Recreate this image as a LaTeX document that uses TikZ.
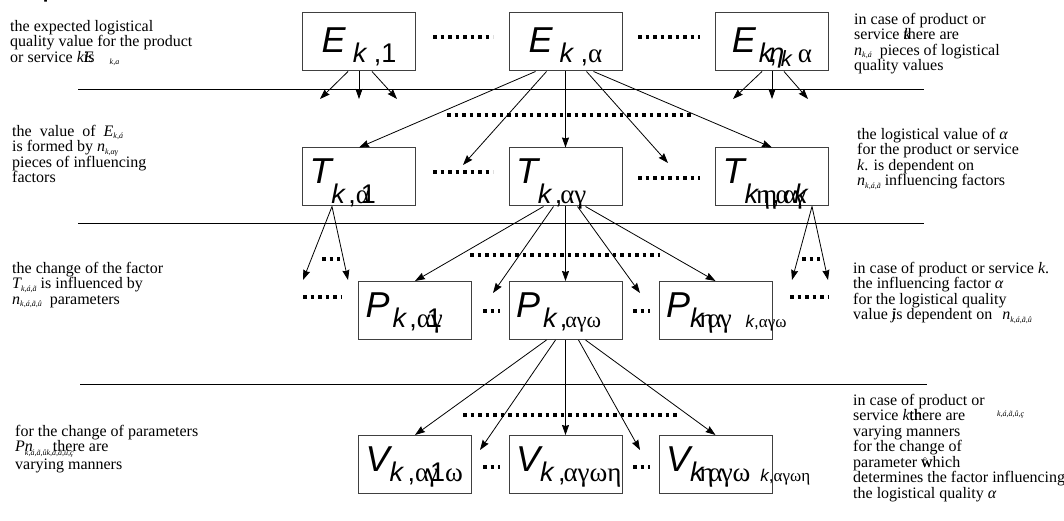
\documentclass[tikz,border=0pt]{standalone}
\usepackage{fontspec}
\setmainfont{Liberation Serif}
\newfontfamily\boxfont{Liberation Sans}
\newfontfamily\grk{Liberation Serif}
\usetikzlibrary{arrows.meta}
\newcommand{\ki}{{\itshape k}}
\newcommand{\gk}[1]{{\grk #1}}
\newcommand{\boxlbl}[3][10pt]{{\fontsize{36}{36}\selectfont\itshape #2}\raisebox{-#1}{\fontsize{27}{27}\selectfont #3}}
\newcommand{\nsub}[1]{\raisebox{-2.5pt}{\fontsize{8}{8}\selectfont\itshape #1}}

\begin{document}
\begin{tikzpicture}[x=1pt,y=-1pt,
  qbox/.style={draw=black!75,line width=1pt,inner sep=0pt,minimum width=113pt,minimum height=58pt,font=\boxfont},
  ebox/.style={qbox,text height=40pt,text depth=18pt},
  lbox/.style={qbox,text height=36pt,text depth=22pt,text width=99pt,inner xsep=7pt,align=left},
  note/.style={font=\fontsize{16}{15.5}\selectfont,align=left,anchor=north west,inner sep=0pt},
  arr/.style={-{Stealth[length=10pt,width=7pt,inset=1pt]},line width=0.8pt},
  sep/.style={line width=1pt},
  dotrow/.style={line width=3.5pt,dash pattern=on 3.5pt off 4pt}]
\useasboundingbox (0,0) rectangle (1064,521);
\fill[white] (0,0) rectangle (1064,521);
% cut title
\node[font=\boxfont\fontsize{32}{32}\selectfont,anchor=base west,inner sep=0pt] (ttlp) at (42,-4) {p};
\node[font=\boxfont\fontsize{32}{32}\selectfont,anchor=base west,inner sep=0pt] (ttlg) at (755,-6) {g};
% row E
\node[ebox] (Ek1) at (359,42) {\boxlbl{E}{\hspace{7pt}\ki\ ,1}};
\node[ebox] (Eka) at (565.5,42) {\boxlbl{E}{\hspace{7pt}\ki\ ,\gk{α}}};
\node[ebox] (Ekn) at (772,42) {\boxlbl{E}{\hspace{3pt}\ki\hspace{-3pt}\rlap{\itshape η},\hspace{4pt}\raisebox{-4pt}{\fontsize{22}{22}\selectfont\ki}\hspace{6pt}\gk{α}}};
\draw[dotrow] (433,37) -- (493,37);
\draw[dotrow] (638,37) -- (700,37);
\draw[sep] (78,90) -- (924,90);
\coordinate (ea1) at (320,99);
\coordinate (ea2) at (359,99);
\coordinate (ea3) at (397,99);
\coordinate (eb1) at (733,99);
\coordinate (eb2) at (772,99);
\coordinate (eb3) at (808,99);
\draw[arr] ([xshift=-11pt]Ek1.south) -- (ea1);
\draw[arr] (Ek1.south) -- (ea2);
\draw[arr] ([xshift=13pt]Ek1.south) -- (ea3);
\draw[arr] ([xshift=-10pt]Ekn.south) -- (eb1);
\draw[arr] (Ekn.south) -- (eb2);
\draw[arr] ([xshift=12pt]Ekn.south) -- (eb3);
\draw[dotrow] (447,115) -- (693,115);
% row T
\node[lbox] (Tk1) at (359,177) {\boxlbl[20pt]{T}{\ki\ ,\gk{α}\hspace{-9pt}1}};
\node[lbox] (Tka) at (565.5,177) {\boxlbl[20pt]{T}{\ki\ ,\hspace{-2pt}\gk{αγ}}};
\node[lbox] (Tkn) at (772,177) {\boxlbl[20pt]{T}{\ki\hspace{-2pt}\gk{η}\hspace{-7pt}\gk{η}\hspace{-5pt},\hspace{-4pt}\gk{α}\hspace{-7pt}\gk{α}\hspace{-3pt}\rlap{\gk{γ}}\ki}};
\coordinate (ta) at (463,165);
\coordinate (tb) at (668,163);
\draw[arr] ([xshift=-30pt]Eka.south) -- (Tk1.north);
\draw[arr] ([xshift=-19pt]Eka.south) -- (ta);
\draw[arr] (Eka.south) -- (Tka.north);
\draw[arr] ([xshift=21pt]Eka.south) -- (tb);
\draw[arr] ([xshift=28pt]Eka.south) -- (Tkn.north);
\draw[dotrow] (433,172) -- (493,172);
\draw[dotrow] (638,178) -- (700,178);
\draw[sep] (78,224) -- (924,224);
\coordinate (ua1) at (303,280);
\coordinate (ua2) at (348,280);
\coordinate (ub1) at (792,280);
\coordinate (ub2) at (828,280);
\draw[arr] ([xshift=-27pt]Tk1.south) -- (ua1);
\draw[arr] ([xshift=-27pt]Tk1.south) -- (ua2);
\draw[arr] ([xshift=40pt]Tkn.south) -- (ub1);
\draw[arr] ([xshift=40pt]Tkn.south) -- (ub2);
\draw[dotrow] (322,259) -- (340,259);
\draw[dotrow] (802,259) -- (820,259);
\draw[dotrow] (303,297) -- (341,297);
\draw[dotrow] (790,297) -- (828,297);
\draw[dotrow] (470,255) -- (660,255);
% row P
\node[lbox] (Pk1) at (415,310.5) {\boxlbl{P}{\hspace{3pt}\ki\ ,\gk{α}\rlap{\hspace{-4pt}1}\gk{γ}}};
\node[lbox] (Pka) at (565.5,310.5) {\boxlbl{P}{\hspace{3pt}\ki\ ,\hspace{-2pt}\gk{\fontsize{22}{22}\selectfont αγω}}};
\node[lbox] (Pkn) at (715.5,310.5) {\boxlbl{P}{\ki\hspace{-4pt}\gk{η}\hspace{-6pt}\gk{α}\hspace{-2pt}\gk{γ}\hspace{14pt}{\fontsize{17}{17}\selectfont\ki,\gk{αγω}}}};
\coordinate (pa) at (493,293);
\coordinate (pb) at (640,293);
\draw[arr] ([xshift=-22pt]Tka.south) -- (Pk1.north);
\draw[arr] ([xshift=-12pt]Tka.south) -- (pa);
\draw[arr] (Tka.south) -- (Pka.north);
\draw[arr] ([xshift=12pt]Tka.south) -- (pb);
\draw[arr] ([xshift=20pt]Tka.south) -- (Pkn.north);
\draw[dotrow] (483,311) -- (500,311);
\draw[dotrow] (633,311) -- (650,311);
\draw[sep] (80,384) -- (927,384);
\draw[dotrow] (463,415) -- (680,415);
% row V
\node[lbox] (Vk1) at (415,464.5) {\boxlbl{V}{\ki\,,\gk{α}\hspace{-3pt}\gk{γ}\hspace{-8pt}1\gk{ω}}};
\node[lbox] (Vka) at (565.5,464.5) {\boxlbl{V}{\ki\,,\hspace{-2pt}\gk{αγωη}}};
\node[lbox] (Vkn) at (715.5,464.5) {\boxlbl{V}{\ki\hspace{-4pt}\gk{η}\hspace{-5pt}\gk{α}\hspace{-2pt}\gk{γω}\hspace{10pt}{\fontsize{17}{17}\selectfont\ki,\gk{αγωη}}}};
\coordinate (va) at (480,450);
\coordinate (vb) at (640,450);
\draw[arr] ([xshift=-19pt]Pka.south) -- (Vk1.north);
\draw[arr] ([xshift=-10pt]Pka.south) -- (va);
\draw[arr] (Pka.south) -- (Vka.north);
\draw[arr] ([xshift=13pt]Pka.south) -- (vb);
\draw[arr] ([xshift=20pt]Pka.south) -- (Vkn.north);
\draw[dotrow] (483,467) -- (500,467);
\draw[dotrow] (633,467) -- (650,467);
% left notes
\node[note] (txtA) at (10,20) {the expected logistical\\ quality value for the product\\ or service {\itshape k}\rlap{is}{\itshape E}\hspace{16pt}\nsub{k,a}};
\node[note] (txtB) at (12,125) {the\ \ value\ \ of\ \ {\itshape E}\nsub{k,á}\\ is formed by {\itshape n}\nsub{k,αγ}\\ pieces of influencing\\ factors};
\node[note] (txtC) at (12,262) {the change of the factor\\ {\itshape T}\nsub{k,á,ã} is influenced by\\ {\itshape n}\nsub{k,á,ã,û}\ \ parameters};
\node[note] (txtD) at (15,425) {for the change of parameters\\ {\itshape P\rlap{\raisebox{-4pt}{\fontsize{8}{8}\selectfont k,á,ã,ûk,ã,ã,û,ç}}n}\hspace{20pt}there are\\ varying manners};
% right notes
\node[note] (txtE) at (854,13) {in case of product or\\ service \rlap{\itshape k}there are\\ {\itshape n}\nsub{k,á}\ \ pieces of logistical\\ quality values};
\node[note] (txtF) at (857,128) {the logistical value of {\itshape α}\\ for the product or service\\ {\itshape k}. is dependent on\\ {\itshape n}\nsub{k,á,ã}\ influencing factors};
\node[note] (txtG) at (853,262) {in case of product or service {\itshape k}.\\ the influencing factor {\itshape α}\\ for the logistical quality\\ value \rlap{\itshape j}is dependent on\hspace{10pt}{\itshape n}\nsub{k,á,ã,û}};
\node[note] (txtH) at (853,394) {in case of product or\\ service {\itshape k}\rlap{th}there are\hspace{32pt}\raisebox{4pt}{\fontsize{8}{8}\selectfont\itshape k,á,ã,û,ç}\\ varying manners\\ for the change of\\ parameter \rlap{\hspace{2pt}\raisebox{3pt}{\fontsize{10}{10}\selectfont °}}\rlap{w}which\\ determines the factor influencing\\ the logistical quality {\itshape α}};
\end{tikzpicture}
\end{document}
